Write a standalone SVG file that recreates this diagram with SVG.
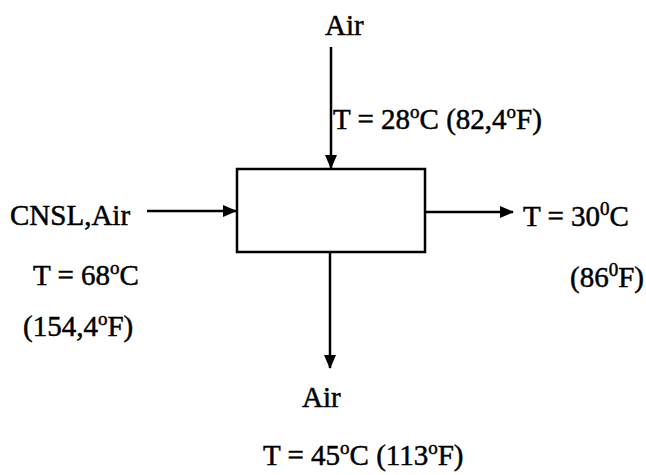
<svg xmlns="http://www.w3.org/2000/svg" width="646" height="475" viewBox="0 0 646 475">
<style>
text{font-family:"Liberation Serif","Times New Roman",serif;font-size:29px;fill:#000;stroke:#000;stroke-width:0.5}
.s{font-size:19px}
.c{stroke:#000;stroke-width:2.5;fill:none}
</style>
<defs>
<marker id="ah" markerWidth="14" markerHeight="12" refX="13" refY="6" orient="auto" markerUnits="userSpaceOnUse">
<path d="M0,0 L14,6 L0,12 Z" fill="#000"/>
</marker>
</defs>
<rect width="646" height="475" fill="#fff"/>
<g id="connectors">
<line class="c" x1="331" y1="47" x2="331" y2="168" marker-end="url(#ah)"/>
<line class="c" x1="147" y1="211" x2="236" y2="211" marker-end="url(#ah)"/>
<line class="c" x1="426" y1="212" x2="513" y2="212" stroke-width="2" marker-end="url(#ah)"/>
<line class="c" x1="330" y1="253" x2="330" y2="368" marker-end="url(#ah)"/>
</g>
<g id="unit">
<rect x="237" y="169" width="188" height="83" fill="#fff" stroke="#000" stroke-width="2.5"/>
</g>
<g id="air-in">
<text x="325" y="35">Air</text>
<text x="333" y="129">T = 28<tspan class="s" dy="-11">o</tspan><tspan dy="11">C (82,4</tspan><tspan class="s" dy="-11">o</tspan><tspan dy="11">F)</tspan></text>
</g>
<g id="feed">
<text x="10" y="225">CNSL,Air</text>
<text x="33" y="285">T = 68<tspan class="s" dy="-11">o</tspan><tspan dy="11">C</tspan></text>
<text x="23" y="336">(154,4<tspan class="s" dy="-11">o</tspan><tspan dy="11">F)</tspan></text>
</g>
<g id="outlet">
<text x="523" y="226">T = 30<tspan class="s" dy="-11">0</tspan><tspan dy="11">C</tspan></text>
<text x="570" y="287">(86<tspan class="s" dy="-11">0</tspan><tspan dy="11">F)</tspan></text>
</g>
<g id="air-out">
<text x="302" y="407">Air</text>
<text x="263" y="465">T = 45<tspan class="s" dy="-11">o</tspan><tspan dy="11">C (113</tspan><tspan class="s" dy="-11">o</tspan><tspan dy="11">F)</tspan></text>
</g>
</svg>
